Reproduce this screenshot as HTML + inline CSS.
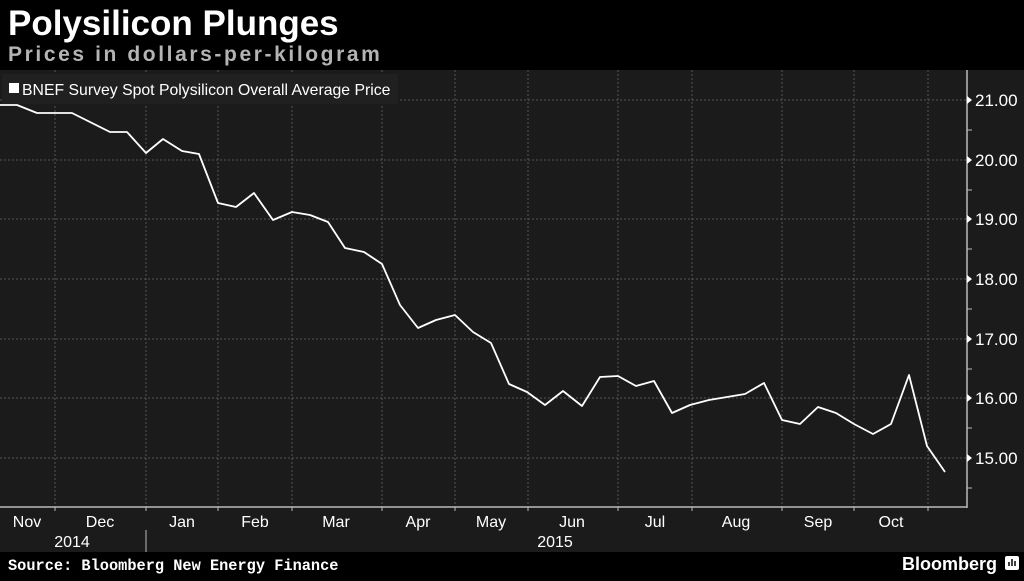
<!DOCTYPE html>
<html><head><meta charset="utf-8"><style>
body{margin:0;width:1024px;height:576px;background:#000;overflow:hidden;font-family:"Liberation Sans",sans-serif}
</style></head><body>
<svg width="1024" height="576" xmlns="http://www.w3.org/2000/svg">
<rect x="0" y="0" width="1024" height="576" fill="#000"/>
<rect x="0" y="70" width="1024" height="482" fill="#1b1b1b"/>
<text x="8" y="35" fill="#fff" font-family="Liberation Sans" font-weight="bold" font-size="35">Polysilicon Plunges</text>
<text x="8" y="61" fill="#b4b4b4" font-family="Liberation Sans" font-weight="bold" font-size="21" letter-spacing="2.6">Prices in dollars-per-kilogram</text>
<g stroke="#555" stroke-width="1" stroke-dasharray="2,2">
<line x1="0" x2="966" y1="100" y2="100"/><line x1="0" x2="966" y1="160" y2="160"/><line x1="0" x2="966" y1="219" y2="219"/><line x1="0" x2="966" y1="279" y2="279"/><line x1="0" x2="966" y1="339" y2="339"/><line x1="0" x2="966" y1="398" y2="398"/><line x1="0" x2="966" y1="458" y2="458"/>
<line x1="55" x2="55" y1="70" y2="507"/><line x1="146" x2="146" y1="70" y2="507"/><line x1="218" x2="218" y1="70" y2="507"/><line x1="292" x2="292" y1="70" y2="507"/><line x1="382" x2="382" y1="70" y2="507"/><line x1="455" x2="455" y1="70" y2="507"/><line x1="528" x2="528" y1="70" y2="507"/><line x1="618" x2="618" y1="70" y2="507"/><line x1="692" x2="692" y1="70" y2="507"/><line x1="782" x2="782" y1="70" y2="507"/><line x1="854" x2="854" y1="70" y2="507"/><line x1="928" x2="928" y1="70" y2="507"/>
</g>
<line x1="0" x2="967" y1="507" y2="507" stroke="#bbb" stroke-width="1.5"/>
<line x1="967" x2="967" y1="70" y2="508" stroke="#bbb" stroke-width="1.5"/>
<g stroke="#bbb" stroke-width="1">
<line x1="967" x2="972" y1="130" y2="130"/><line x1="967" x2="972" y1="190" y2="190"/><line x1="967" x2="972" y1="249" y2="249"/><line x1="967" x2="972" y1="309" y2="309"/><line x1="967" x2="972" y1="369" y2="369"/><line x1="967" x2="972" y1="428" y2="428"/><line x1="967" x2="972" y1="488" y2="488"/>
<line x1="55" x2="55" y1="507" y2="511"/><line x1="146" x2="146" y1="507" y2="511"/><line x1="218" x2="218" y1="507" y2="511"/><line x1="292" x2="292" y1="507" y2="511"/><line x1="382" x2="382" y1="507" y2="511"/><line x1="455" x2="455" y1="507" y2="511"/><line x1="528" x2="528" y1="507" y2="511"/><line x1="618" x2="618" y1="507" y2="511"/><line x1="692" x2="692" y1="507" y2="511"/><line x1="782" x2="782" y1="507" y2="511"/><line x1="854" x2="854" y1="507" y2="511"/><line x1="928" x2="928" y1="507" y2="511"/>
<line x1="146" x2="146" y1="530" y2="552"/>
</g>
<g fill="#fff"><polygon points="967,96 972,100 967,104"/><polygon points="967,156 972,160 967,164"/><polygon points="967,215 972,219 967,223"/><polygon points="967,275 972,279 967,283"/><polygon points="967,335 972,339 967,343"/><polygon points="967,394 972,398 967,402"/><polygon points="967,454 972,458 967,462"/></g>
<g fill="#fff" font-family="Liberation Sans" font-size="17">
<text x="975" y="106">21.00</text><text x="975" y="166">20.00</text><text x="975" y="225">19.00</text><text x="975" y="285">18.00</text><text x="975" y="345">17.00</text><text x="975" y="404">16.00</text><text x="975" y="464">15.00</text>
</g>
<g fill="#fff" font-family="Liberation Sans" font-size="16" text-anchor="middle">
<text x="27" y="527">Nov</text><text x="100" y="527">Dec</text><text x="182" y="527">Jan</text><text x="255" y="527">Feb</text><text x="336" y="527">Mar</text><text x="418" y="527">Apr</text><text x="491" y="527">May</text><text x="572" y="527">Jun</text><text x="655" y="527">Jul</text><text x="736" y="527">Aug</text><text x="818" y="527">Sep</text><text x="891" y="527">Oct</text>
<text x="72" y="547">2014</text><text x="555" y="547">2015</text>
</g>
<polyline fill="none" stroke="#fff" stroke-width="1.8" stroke-linejoin="round" points="0,105 17,105 37,113 72,113 110,132 127,132 146,153 163,139 182,151 199,154 218,203 236,207 254,193 273,220 292,212 310,215 328,222 345,248 364,252 382,264 400,305 418,328 436,320 455,315 473,332 491,343 509,384 527,392 545,405 563,391 582,406 600,377 618,376 636,386 654,381 672,413 690,405 709,400 727,397 745,394 764,383 782,420 800,424 818,407 836,413 854,424 873,434 891,424 909,375 927,446 945,472"/>
<rect x="2" y="74" width="396" height="30" fill="#202020"/>
<rect x="9" y="83" width="10" height="10" fill="#fff"/>
<text x="22" y="95" fill="#fff" font-family="Liberation Sans" font-size="15.8">BNEF Survey Spot Polysilicon Overall Average Price</text>
<text x="8" y="570" fill="#fff" font-family="Liberation Mono" font-weight="bold" font-size="15.3">Source: Bloomberg New Energy Finance</text>
<text x="997" y="570" fill="#fff" font-family="Liberation Sans" font-weight="bold" font-size="18" text-anchor="end">Bloomberg</text>
<rect x="1005" y="556" width="14" height="14" rx="2" fill="#fff"/>
<g stroke="#000" stroke-width="1.5"><line x1="1009" x2="1009" y1="566" y2="562"/><line x1="1012" x2="1012" y1="566" y2="559"/><line x1="1015" x2="1015" y1="566" y2="561"/></g>
</svg>
</body></html>
